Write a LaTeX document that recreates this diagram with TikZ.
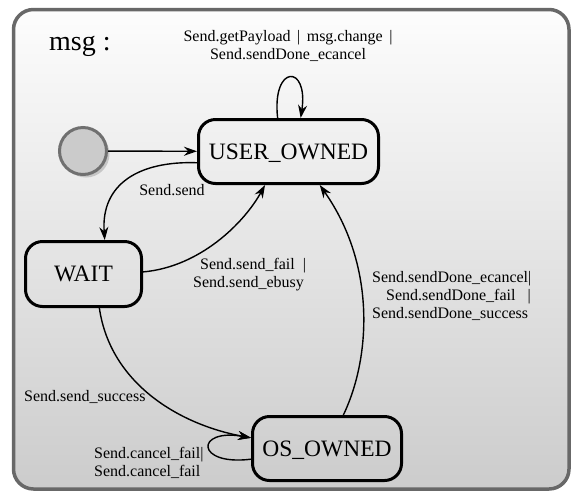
\documentclass[tikz,border=0pt]{standalone}
\usepackage{fontspec}
\setmainfont{Liberation Serif}
\usetikzlibrary{arrows.meta,shadows}
\definecolor{framegray}{HTML}{686868}
\definecolor{shadetop}{HTML}{FDFDFD}
\definecolor{shadebot}{HTML}{CCCCCC}
\definecolor{initfill}{HTML}{CBCBCB}
\definecolor{initline}{HTML}{707070}

\begin{document}
\begin{tikzpicture}[x=1pt, y=-1pt, >={Stealth[length=13pt,width=9pt]},
  state/.style={draw, line width=3pt, rounded corners=17pt, inner sep=0pt, text depth=0pt, font=\fontsize{23.5}{26}\selectfont},
  lbl/.style={inner sep=0pt, align=left, font=\fontsize{16}{18}\selectfont},
  trans/.style={->, line width=1.4pt}]
  \useasboundingbox (0,0) rectangle (572,491);
  % --- frame ---
  \draw[line width=3.5pt, draw=framegray, rounded corners=20pt, top color=shadetop, bottom color=shadebot] (13.5,9.5) rectangle (569,489);
  \node[anchor=base west, inner sep=0pt, font=\fontsize{28}{30}\selectfont] (title) at (49,50) {msg :};
  % --- states ---
  \node[circle, minimum size=47pt, inner sep=0pt, line width=3pt, draw=initline, fill=initfill, drop shadow={shadow xshift=3pt, shadow yshift=-3pt, opacity=0.35}] (init) at (83,151) {};
  \node[state, minimum width=180pt, minimum height=64pt] (user) at (288.5,151.5) {USER\_OWNED};
  \node[state, minimum width=116pt, minimum height=65pt] (wait) at (83.5,274) {WAIT};
  \node[state, minimum width=149pt, minimum height=64pt] (os) at (327,448.5) {OS\_OWNED};
  % --- transitions ---
  \draw[trans] (init) -- (user);
  \draw[trans] (user.108) .. controls +(-6,-54) and +(8,-54) .. (user.70);
  \draw[trans] (user.187) .. controls +(-58,-2) and +(-4,-56) .. (wait.58);
  \draw[trans] (wait.2) .. controls +(57,-5) and +(-21,38) .. (user.235);
  \draw[trans] (os.64) .. controls +(27,-56) and +(57,81) .. (user.313);
  \draw[trans] (wait.295) .. controls +(11,76) and +(-71,-13) .. (os.172);
  \draw[trans] (os.188) .. controls +(-56,7) and +(-56,-10) .. (os.172);
  % --- labels ---
  \node[lbl, align=center] (lbluser) at (288,46) {Send.getPayload\hspace{6.5pt}|\hspace{6.5pt}msg.change\hspace{6.5pt}|\\Send.sendDone\_ecancel};
  \node[lbl] (lblsend) at (172,190) {Send.send};
  \node[lbl, anchor=west] (lblfail) at (193,275) {\hspace*{7pt}Send.send\_fail\hspace{8pt}|\\Send.send\_ebusy};
  \node[lbl, anchor=west] (lbldone) at (372,296) {Send.sendDone\_ecancel|\\\hspace*{14pt}Send.sendDone\_fail\hspace{12pt}|\\Send.sendDone\_success};
  \node[lbl, anchor=west] (lblsucc) at (24,397) {Send.send\_success};
  \node[lbl, anchor=west] (lblcancel) at (94,462.5) {Send.cancel\_fail|\\Send.cancel\_fail};
\end{tikzpicture}
\end{document}
